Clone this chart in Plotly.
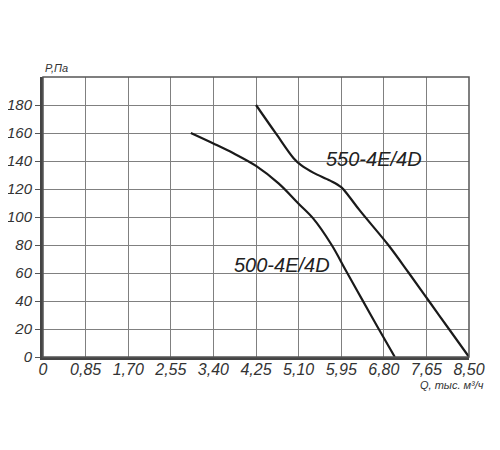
import plotly.graph_objects as go

# Fan curves: airflow Q (thousand m3/h) vs pressure P (Pa)
q_500 = [2.95, 3.40, 3.80, 4.25, 4.70, 5.10, 5.39, 5.76, 6.04, 6.36, 6.69, 7.02]
p_500 = [160, 152.5, 145.5, 136.5, 124, 109.5, 99, 80, 62, 41.5, 20.5, 0]

q_550 = [4.25, 4.65, 5.00, 5.15, 5.40, 5.73, 5.95, 6.10, 6.32, 6.89, 7.30, 7.70, 8.10, 8.50]
p_550 = [180, 159.5, 142, 137, 131.5, 126, 121.3, 115, 104.7, 80, 60, 40, 20, 0]

x_ticks = [0, 0.85, 1.70, 2.55, 3.40, 4.25, 5.10, 5.95, 6.80, 7.65, 8.50]
x_ticktext = ["0", "0,85", "1,70", "2,55", "3,40", "4,25", "5,10", "5,95", "6,80", "7,65", "8,50"]
y_ticks = [0, 20, 40, 60, 80, 100, 120, 140, 160, 180]

font_family = "Liberation Sans, Arial, sans-serif"
italic = dict(family=font_family, style="italic", color="#333")

fig = go.Figure()
for q, p in [(q_500, p_500), (q_550, p_550)]:
    fig.add_trace(
        go.Scatter(
            x=q,
            y=p,
            mode="lines",
            line=dict(color="#1a1a1a", width=2.2, shape="spline", smoothing=1.0),
            hoverinfo="skip",
            showlegend=False,
        )
    )

fig.add_annotation(x=6.61, y=141.5, text="550-4E/4D", showarrow=False,
                   font=dict(italic, size=20, color="#222"))
fig.add_annotation(x=4.77, y=65.5, text="500-4E/4D", showarrow=False,
                   font=dict(italic, size=20, color="#222"))
fig.add_annotation(x=0, y=1.0, xref="x domain", yref="y domain", yanchor="bottom",
                   xanchor="left", yshift=1, text="P,Па", showarrow=False,
                   font=dict(italic, size=11))
fig.add_annotation(x=1.0, y=0, xref="x domain", yref="y domain", yanchor="top",
                   xanchor="center", xshift=-17, yshift=-20, text="Q, тыс. м³/ч",
                   showarrow=False, font=dict(italic, size=11))

# frame on top/right
fig.add_shape(type="rect", xref="x domain", yref="y domain", x0=0, x1=1, y0=0, y1=1,
              line=dict(color="#555", width=1.5), layer="above")

fig.update_xaxes(
    range=[0, 8.5],
    tickvals=x_ticks,
    ticktext=x_ticktext,
    tickfont=dict(italic, size=16),
    showgrid=True,
    gridcolor="#808080",
    gridwidth=1,
    zeroline=False,
    showline=True,
    linecolor="#444",
    linewidth=2.5,
    ticks="",
    ticklabelstandoff=-4,
    automargin=False,
)
fig.update_yaxes(
    range=[0, 200],
    tickvals=y_ticks,
    tickfont=dict(italic, size=15),
    showgrid=True,
    gridcolor="#808080",
    gridwidth=1,
    zeroline=False,
    showline=True,
    linecolor="#444",
    linewidth=3,
    ticks="outside",
    ticklen=5,
    tickcolor="#555",
    automargin=False,
)
# page body has an 8px margin, so the figure is shrunk and offset to match
fig.update_layout(
    width=492,
    height=442,
    margin=dict(l=35, r=31, t=69, b=93),
    paper_bgcolor="white",
    plot_bgcolor="white",
    font=dict(family=font_family),
)

fig.write_html("out.html")
